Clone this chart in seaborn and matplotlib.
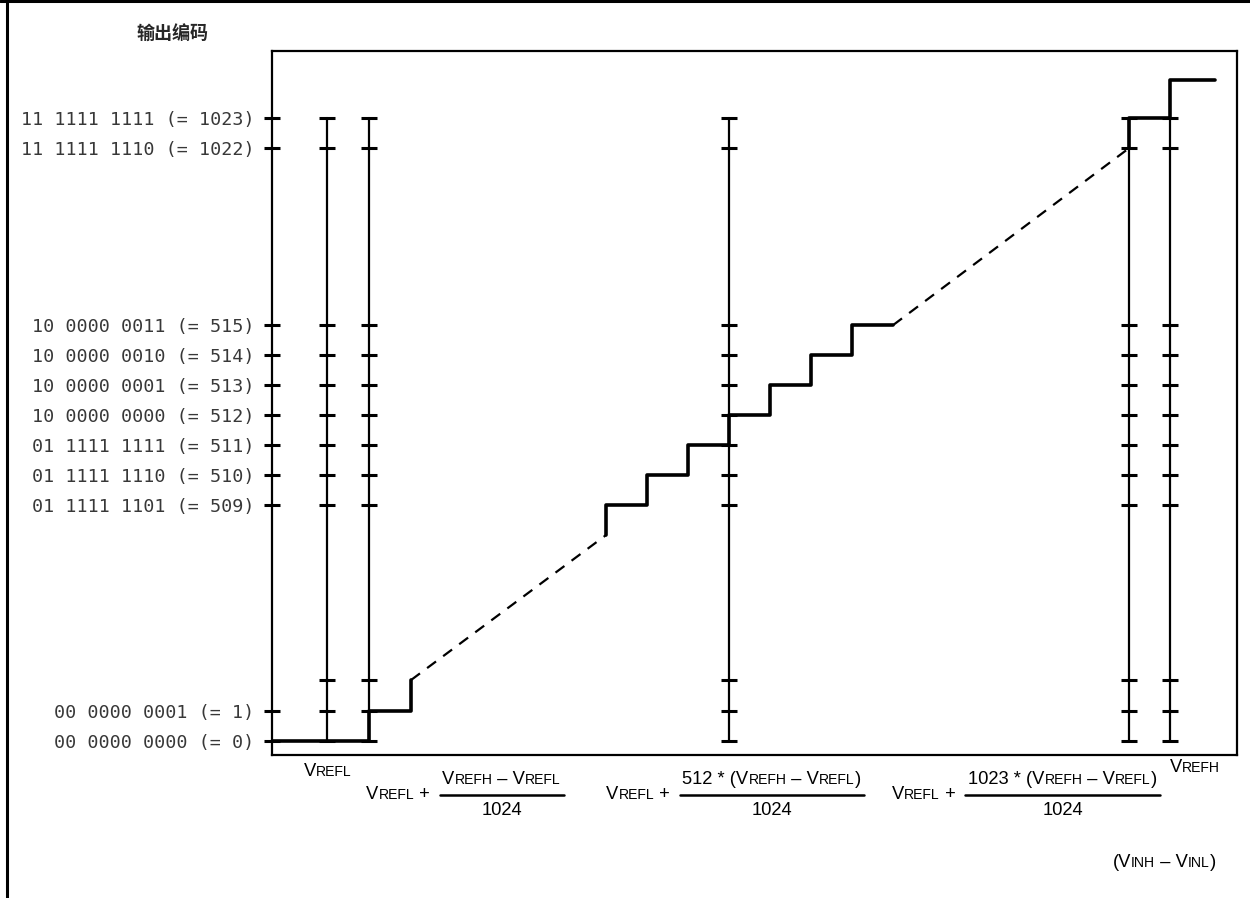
import re
import matplotlib
matplotlib.use('Agg')
import matplotlib.pyplot as plt
import numpy as np
import seaborn as sns
from matplotlib.lines import Line2D
from matplotlib.offsetbox import TextArea, HPacker, VPacker, DrawingArea, AnnotationBbox

# y axis: output codes that get a label
code_ticks = [0, 1, 509, 510, 511, 512, 513, 514, 515, 1022, 1023]
code_labels = ['00 0000 0000 (= 0)', '00 0000 0001 (= 1)',
               '01 1111 1101 (= 509)', '01 1111 1110 (= 510)', '01 1111 1111 (= 511)',
               '10 0000 0000 (= 512)', '10 0000 0001 (= 513)', '10 0000 0010 (= 514)',
               '10 0000 0011 (= 515)',
               '11 1111 1110 (= 1022)', '11 1111 1111 (= 1023)']
# codes marked on each reference line, and where those lines stand (LSB above VREFL)
ref_marks = [0, 1, 2, 509, 510, 511, 512, 513, 514, 515, 1022, 1023]
ref_volts = [0, 1, 512, 1023, 1024]

# transfer function, three solid pieces (input in LSB, output code)
low_v = [-1.31, 1, 2]
low_c = [0, 1, 2]
mid_v = [509, 510, 511, 512, 513, 514, 515, 516]
mid_c = [508, 509, 510, 511, 512, 513, 514, 515]
top_v = [1023, 1024, 1025.1]
top_c = [1022, 1023, 1024]
# the skipped stretches, drawn dashed
gap_v = [[2, 509], [516, 1023]]
gap_c = [[2, 508], [515, 1022]]

# broken axes: value -> position
x_breaks = [-5, 0, 2, 509, 516, 1023, 1030]
x_pos = [117, 327, 411, 606, 893, 1129, 1416]
y_breaks = [-5, 0, 2, 508, 515, 1022, 1023, 1024, 1030]
y_pos = [-152, 0, 61, 206, 416, 593, 623, 661, 841]

sns.set_theme(style='white')
plt.rcParams['font.family'] = ['Liberation Sans', 'DejaVu Sans']

fig = plt.figure(figsize=(12.5, 8.98), dpi=100)
ax = fig.add_axes([272 / 1250, 1 - 755 / 898, 965 / 1250, 704 / 898])

for v in ref_volts:
    ax.plot([v] * len(ref_marks), ref_marks, color='black', lw=1.6,
            marker='_', ms=11.5, mew=2.2, zorder=2)

for xs, ys, ds in [(low_v, low_c, 'steps-post'), (mid_v, mid_c, 'steps-pre'), (top_v, top_c, 'steps-pre')]:
    sns.lineplot(x=xs, y=ys, drawstyle=ds, sort=False, estimator=None,
                 color='black', lw=2.6, ax=ax, zorder=3)
for xs, ys in zip(gap_v, gap_c):
    sns.lineplot(x=xs, y=ys, sort=False, estimator=None, color='black',
                 lw=1.6, linestyle=(0, (5, 4)), ax=ax, zorder=3)

ax.set_xscale('function', functions=(lambda v: np.interp(v, x_breaks, x_pos),
                                      lambda p: np.interp(p, x_pos, x_breaks)))
ax.set_yscale('function', functions=(lambda c: np.interp(c, y_breaks, y_pos),
                                      lambda p: np.interp(p, y_pos, y_breaks)))
ax.set_xlim(-1.31, 1025.63)
ax.set_ylim(-0.46, 1024.97)

ax.set_xticks([])
ax.set_yticks(code_ticks)
ax.set_yticklabels(code_labels, family='DejaVu Sans Mono', fontsize=13.2, color='#383838')
ax.yaxis.set_minor_locator(matplotlib.ticker.NullLocator())
ax.tick_params(axis='y', direction='inout', length=11.5, width=2.2, color='black', pad=7, left=True)
for s in ax.spines.values():
    s.set_visible(True)
    s.set_color('black')
    s.set_linewidth(1.6)

# page frame on the left and top
fig.add_artist(Line2D([7 / 1250, 7 / 1250], [0, 1], color='black', lw=2.2))
fig.add_artist(Line2D([0, 1], [1 - 1 / 898, 1 - 1 / 898], color='black', lw=2.2))

fig.text(172 / 1250, 1 - 33 / 898, '输出编码', ha='center', va='center', fontsize=13,
         fontweight='bold', family=['Noto Sans CJK SC', 'DejaVu Sans'])

renderer = fig.canvas.get_renderer()
BIG, SMALL = 13.2, 10.1


def sc_text(s):
    # text in {} is set in small capitals
    boxes = []
    for i, chunk in enumerate(re.split(r'[{}]', s)):
        if chunk:
            boxes.append(TextArea(chunk, textprops=dict(size=SMALL if i % 2 else BIG,
                                                        family='Liberation Sans', color='black')))
    box = HPacker(children=boxes, align='baseline', pad=0, sep=0)
    box.set_figure(fig)
    return box


def frac(num, den):
    n = sc_text(num)
    d = sc_text(den)
    w = n.get_bbox(renderer).width / renderer.points_to_pixels(1.0) + 4
    bar = DrawingArea(w, 2, 0, 0)
    bar.add_artist(Line2D([0, w], [1, 1], lw=1.8, color='black'))
    return VPacker(children=[n, bar, d], align='center', pad=0, sep=4)


def place(box, x, y, align=(0.5, 1)):
    ab = AnnotationBbox(box, (x, 898 - y), xycoords='figure pixels', box_alignment=align,
                        frameon=False, pad=0, annotation_clip=False)
    fig.add_artist(ab)


place(sc_text('V{REFL}'), 328, 763)
place(HPacker(children=[sc_text('V{REFL} +'), frac('V{REFH} – V{REFL}', '1024')],
              align='center', pad=0, sep=7), 465, 771)
place(HPacker(children=[sc_text('V{REFL} +'), frac('512 * (V{REFH} – V{REFL})', '1024')],
              align='center', pad=0, sep=7), 735, 771)
place(HPacker(children=[sc_text('V{REFL} +'), frac('1023 * (V{REFH} – V{REFL})', '1024')],
              align='center', pad=0, sep=7), 1026, 771)
place(sc_text('V{REFH}'), 1170, 759, align=(0, 1))
place(sc_text('(V{INH} – V{INL})'), 1164, 854)

fig.savefig('out.png', dpi=100)
